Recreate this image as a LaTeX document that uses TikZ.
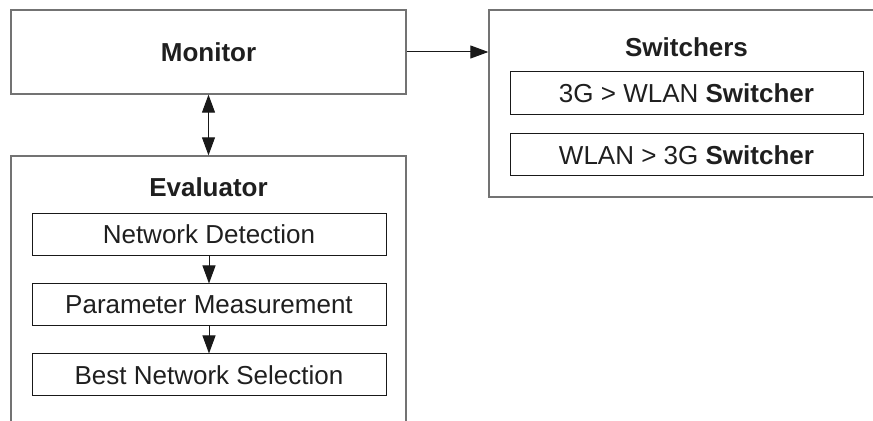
\documentclass[tikz,border=0pt]{standalone}
\usepackage{fontspec}
\setmainfont{Liberation Sans}
\usepackage{tikz}
\usetikzlibrary{positioning,arrows.meta}

\begin{document}
\begin{tikzpicture}[x=0.5pt,y=-0.5pt,
                    outer/.style={rectangle,draw=black!55,line width=0.65pt,inner sep=0,minimum width=197.5pt},
                    inner/.style={rectangle,draw=black!90,line width=0.5pt,inner sep=0,minimum width=177pt,minimum height=21pt,text=black!88},
                    title/.style={font=\bfseries,text=black!88},
                    tip/.tip={Triangle[length=9pt,width=6.5pt]},
                    link/.style={black!90,line width=0.5pt,-tip}
                ]
    \useasboundingbox (0,0) rectangle (873,421);
    \clip (0,0) rectangle (873,421);
    \fontsize{13}{15}\selectfont
    \node[outer,minimum height=42pt,font=\bfseries,text=black!88] (monitor) at (208.5,52) {Monitor};
    \node[outer,minimum height=142pt] (evaluator) at (208.5,298) {};
    \node[title] (evaltitle) at (208.5,187) {Evaluator};
    \node[inner] (detect) at (209,234.5) {Network Detection};
    \node[inner] (measure) at (209,305) {Parameter Measurement};
    \node[inner] (select) at (209,375) {Best Network Selection};
    \node[outer,minimum width=205.5pt,minimum height=93.5pt] (switchers) at (694.5,103.5) {};
    \node[title] (switchtitle) at (686.5,47) {Switchers};
    \node[inner,minimum width=176.5pt,minimum height=21.5pt] (gtow) at (686.5,93.5) {3G > WLAN \textbf{Switcher}};
    \node[inner,minimum width=176.5pt] (wtog) at (686.5,155) {WLAN > 3G \textbf{Switcher}};
    \draw[link] (monitor.east) -- (monitor.east -| switchers.west);
    \draw[link,tip-tip] (monitor.south) -- (evaluator.north);
    \draw[link] (detect) -- (measure);
    \draw[link] (measure) -- (select);
\end{tikzpicture}
\end{document}
